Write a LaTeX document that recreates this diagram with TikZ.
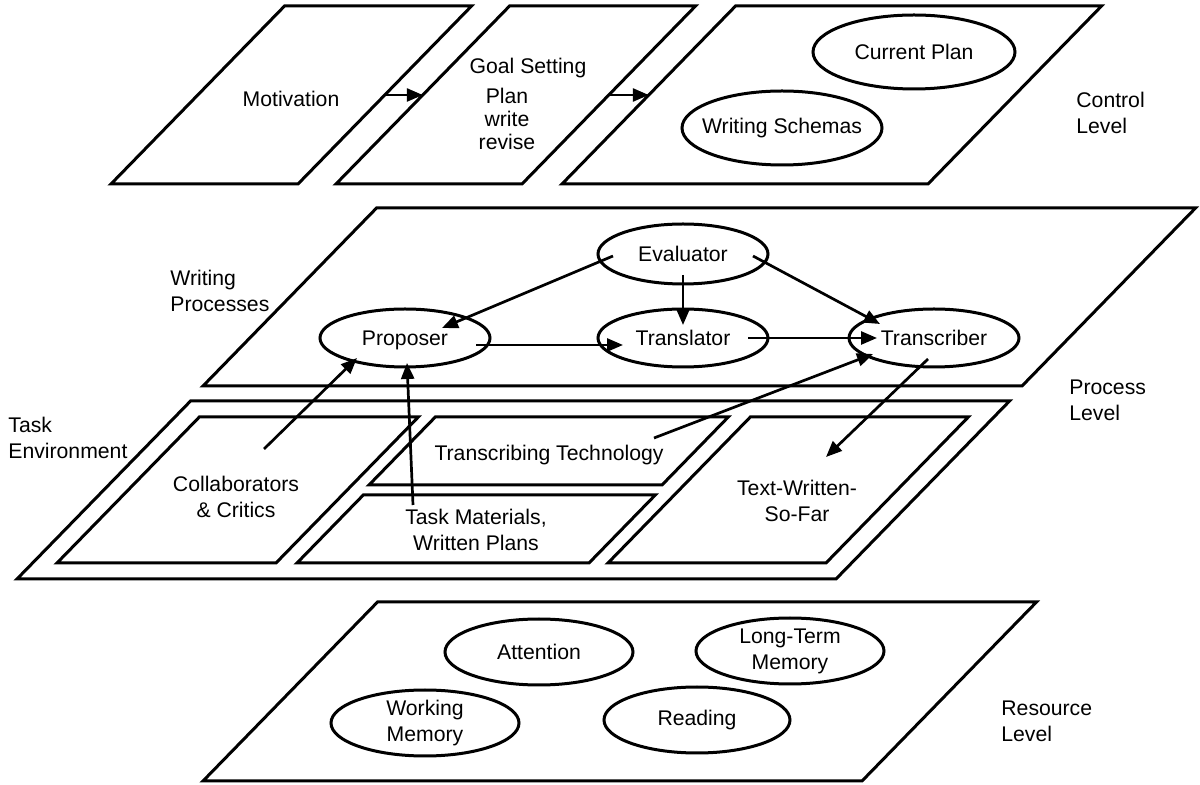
\documentclass[tikz,border=0pt]{standalone}
\usepackage{fontspec}
\setmainfont{Liberation Sans}
\usetikzlibrary{shapes.geometric,arrows.meta,calc}
\begin{document}
\begin{tikzpicture}[x=0.5pt,y=-0.5pt,
font=\fontsize{10.6}{13}\selectfont,
plate/.style={draw=black,line width=1.5pt},
bubble/.style={draw=black,ellipse,line width=1.5pt,inner xsep=-7pt,inner ysep=0pt,align=center},
lbl/.style={align=center,inner sep=0pt},
side/.style={align=left,anchor=west,inner sep=0pt},
link/.style={line width=1.35pt,-{Triangle[length=8pt,width=6.5pt]}}]

\useasboundingbox (0,0) rectangle (1200,785);

\newcommand{\slab}[5]
{
\pgfmathsetmacro\slt{0.975*#5}
\draw[plate] (#2,#3) -- ++(#4,0) -- ++(\slt,-#5) -- ++(-#4,0) -- cycle;
\coordinate (#1-w) at (#2+\slt/2,#3-#5/2);
\coordinate (#1-e) at (#2+#4+\slt/2,#3-#5/2);
}

\slab{motiv}{111}{184}{187}{178}
\slab{goal}{336}{184}{186}{178}
\slab{ctrl}{562}{184}{366}{178}
\slab{proc}{203}{386}{819}{178}
\slab{task}{17}{579}{819}{178}
\slab{collab}{57}{563}{219}{146}
\slab{tech}{369}{485}{293}{68}
\slab{mat}{297}{563}{292}{68}
\slab{tws}{608}{563}{218}{146}
\slab{res}{203}{781}{659}{179}

\node[lbl] (motivtxt) at (291,99) {Motivation};
\node[lbl] (goaltxt) at (528,68) {Goal Setting};
\node[lbl,font=\fontsize{10.6}{11.5}\selectfont] (goalsub) at (507,119) {Plan\\write\\revise};
\node[bubble,minimum width=101pt,minimum height=37pt] (curplan) at (914,52) {Current Plan};
\node[bubble,minimum width=100pt,minimum height=37pt] (schemas) at (782,128) {Writing Schemas};
\node[side] (ctrllbl) at (1076,113) {Control\\Level};

\node[side] (wplbl) at (170,291) {Writing\\Processes};
\node[bubble,minimum width=85pt,minimum height=30pt] (eval) at (683,254) {Evaluator};
\node[bubble,minimum width=85pt,minimum height=29pt,text depth=0pt] (prop) at (405,338) {Proposer};
\node[bubble,minimum width=85pt,minimum height=29pt] (transl) at (683,338) {Translator};
\node[bubble,minimum width=85pt,minimum height=29pt] (transc) at (934,338) {Transcriber};
\node[side] (proclbl) at (1069,400) {Process\\Level};

\node[side] (tasklbl) at (8,438) {Task\\Environment};
\node[lbl] (collabtxt) at (236,497) {Collaborators\\\& Critics};
\node[lbl] (techtxt) at (549,455) {Transcribing Technology};
\node[lbl] (mattxt) at (476,530) {Task Materials,\\Written Plans};
\node[lbl] (twstxt) at (797,501) {Text-Written-\\So-Far};

\node[bubble,minimum width=94pt,minimum height=33pt] (attn) at (539,652) {Attention};
\node[bubble,minimum width=94pt,minimum height=33pt] (ltm) at (790,651) {Long-Term\\Memory};
\node[bubble,minimum width=94pt,minimum height=33pt] (wm) at (425,723) {Working\\Memory};
\node[bubble,minimum width=93pt,minimum height=33pt] (read) at (697,720) {Reading};
\node[side] (reslbl) at (1001,721) {Resource\\Level};

\draw[link] (motiv-e) -- (goal-w);
\draw[link] (goal-e) -- (ctrl-w);
\draw[link] ($(eval)+(-70,2)$) -- ($(prop)+(37,-10)$);
\draw[link] ($(eval)+(0,21)$) -- ($(transl)+(0,-13)$);
\draw[link] ($(eval)+(70,2)$) -- ($(transc)+(-54,-14)$);
\draw[link] ($(prop)+(71,7)$) -- ($(transl)+(-60,7)$);
\draw[link] ($(transl)+(65,0)$) -- ($(transc)+(-57,0)$);
\draw[link] ($(collabtxt)+(28,-48)$) -- ($(prop)+(-48,20)$);
\draw[link] ($(mattxt)+(-63,-25)$) -- ($(prop)+(2,25)$);
\draw[link] ($(techtxt)+(105,-17)$) -- ($(transc)+(-61,16)$);
\draw[link] ($(transc)+(-6,21)$) -- ($(twstxt)+(29,-44)$);

\end{tikzpicture}
\end{document}
